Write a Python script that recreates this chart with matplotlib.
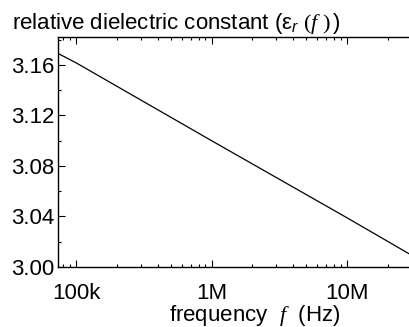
import matplotlib
matplotlib.use("Agg")
import matplotlib.pyplot as plt
from matplotlib.ticker import FixedLocator, FixedFormatter, LogLocator, MultipleLocator, NullFormatter

freq_hz = [73e3, 100e3, 1e6, 10e6, 28.8e6]
eps_r = [3.169, 3.1614, 3.0999, 3.0390, 3.0105]
xtick_vals = [1e5, 1e6, 1e7]
xtick_labels = ["100k", "1M", "10M"]
ytick_vals = [3.00, 3.04, 3.08, 3.12, 3.16]

plt.rcParams['font.family'] = ['Liberation Sans', 'DejaVu Sans']
plt.rcParams['mathtext.fontset'] = 'custom'
plt.rcParams['mathtext.it'] = 'Liberation Serif:italic'
plt.rcParams['mathtext.rm'] = 'Liberation Serif'
plt.rcParams['mathtext.sf'] = 'Liberation Sans:italic'

FS = 16
fig = plt.figure(figsize=(4.09, 3.27), dpi=100)
ax = fig.add_axes([58/409, 60/327, 351/409, 230/327])
ax.plot(freq_hz, eps_r, color='black', lw=0.9)
ax.set_xscale('log')
ax.set_xlim(73e3, 28.8e6)
ax.set_ylim(3.00, 3.182)
ax.xaxis.set_major_locator(FixedLocator(xtick_vals))
ax.xaxis.set_major_formatter(FixedFormatter(xtick_labels))
ax.xaxis.set_minor_locator(LogLocator(base=10, subs=range(2, 10)))
ax.xaxis.set_minor_formatter(NullFormatter())
ax.yaxis.set_major_locator(FixedLocator(ytick_vals))
ax.yaxis.set_major_formatter(FixedFormatter([f"{v:.2f}" for v in ytick_vals]))
ax.yaxis.set_minor_locator(MultipleLocator(0.02))
ax.tick_params(which='both', direction='in', top=True, right=False, labelsize=FS, width=0.8, colors='black')
ax.tick_params(which='major', length=5)
ax.tick_params(which='minor', length=2.5)
ax.tick_params(axis='y', pad=2.5)
ax.tick_params(axis='x', pad=11.5)
ax.spines['right'].set_visible(False)
for s in ['left', 'bottom', 'top']:
    ax.spines[s].set_linewidth(1.0)

fig.text(12/409, 1 - 24/327, r"relative dielectric constant (ε$_{\mathsf{r}}$ $\mathit{(f\ )}\,$)",
         fontsize=FS, va='center', ha='left')
fig.text(255/409, 1 - 315/327, r"frequency  $\mathit{f}$  (Hz)", fontsize=FS, va='center', ha='center')

fig.savefig("out.png", dpi=100)
